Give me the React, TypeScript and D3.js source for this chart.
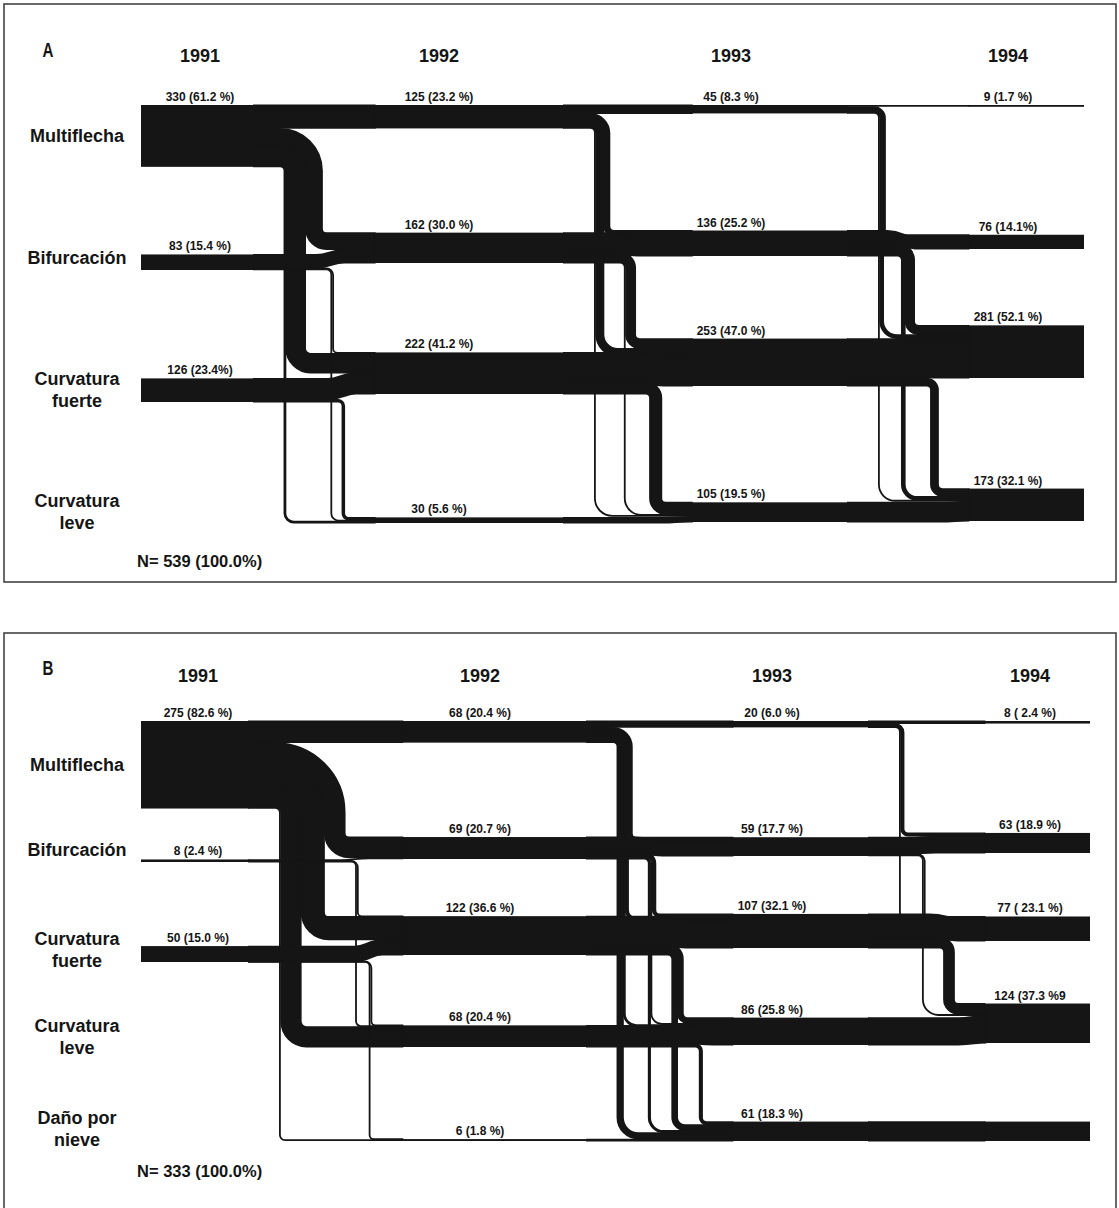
import * as d3 from 'd3'
import React from 'react'

// ---------- panel A ----------
const yearsA = ['1991', '1992', '1993', '1994']
const rowsA = [['Multiflecha'], ['Bifurcación'], ['Curvatura', 'fuerte'], ['Curvatura', 'leve']]
const totalA = 539
const countsA = [
  [330, 83, 126, 0],
  [125, 162, 222, 30],
  [45, 136, 253, 105],
  [9, 76, 281, 173],
]
const labelsA = [
  ['330 (61.2 %)', '83 (15.4 %)', '126 (23.4%)', ''],
  ['125 (23.2 %)', '162 (30.0 %)', '222 (41.2 %)', '30 (5.6 %)'],
  ['45 (8.3 %)', '136 (25.2 %)', '253 (47.0 %)', '105 (19.5 %)'],
  ['9 (1.7 %)', '76 (14.1%)', '281 (52.1 %)', '173 (32.1 %)'],
]
// [from row, to row, trees] for 91-92, 92-93, 93-94
const flowsA = [
  [[0, 0, 125], [0, 1, 90], [0, 2, 105], [0, 3, 10], [1, 1, 72], [1, 2, 5], [1, 3, 6], [2, 2, 112], [2, 3, 14]],
  [[0, 0, 45], [0, 1, 32], [0, 2, 43], [0, 3, 5], [1, 1, 104], [1, 2, 53], [1, 3, 5], [2, 2, 157], [2, 3, 65], [3, 3, 30]],
  [[0, 0, 9], [0, 1, 10], [0, 2, 20], [0, 3, 6], [1, 1, 66], [1, 2, 50], [1, 3, 20], [2, 2, 211], [2, 3, 42], [3, 3, 105]],
]

// ---------- panel B ----------
const yearsB = ['1991', '1992', '1993', '1994']
const rowsB = [['Multiflecha'], ['Bifurcación'], ['Curvatura', 'fuerte'], ['Curvatura', 'leve'], ['Daño por', 'nieve']]
const totalB = 333
const countsB = [
  [275, 8, 50, 0, 0],
  [68, 69, 122, 68, 6],
  [20, 59, 107, 86, 61],
  [8, 63, 77, 124, 61],
]
const labelsB = [
  ['275 (82.6 %)', '8 (2.4 %)', '50 (15.0 %)', '', ''],
  ['68 (20.4 %)', '69 (20.7 %)', '122 (36.6 %)', '68 (20.4 %)', '6 (1.8 %)'],
  ['20 (6.0 %)', '59 (17.7 %)', '107 (32.1 %)', '86 (25.8 %)', '61 (18.3 %)'],
  ['8 ( 2.4 %)', '63 (18.9 %)', '77 ( 23.1 %)', '124 (37.3 %9', ''],
]
const flowsB = [
  [[0, 0, 68], [0, 1, 65], [0, 2, 73], [0, 3, 64], [0, 4, 5], [1, 1, 4], [1, 2, 1], [1, 3, 3], [2, 2, 48], [2, 3, 1], [2, 4, 1]],
  [[0, 0, 20], [0, 1, 12], [0, 2, 10], [0, 3, 6], [0, 4, 20], [1, 1, 47], [1, 2, 11], [1, 3, 4], [1, 4, 7],
    [2, 2, 86], [2, 3, 18], [2, 4, 18], [3, 3, 58], [3, 4, 10], [4, 4, 6]],
  [[0, 0, 8], [0, 1, 10], [0, 2, 2], [1, 1, 53], [1, 2, 2], [1, 3, 4], [2, 2, 73], [2, 3, 34], [3, 3, 86], [4, 4, 61]],
]

// layout (positions only)
const layoutA = {
  box: [4, 4, 1112, 578], letter: 'A', letterY: 57, yearY: 62,
  yearX: [200, 439, 731, 1008], bandX: [141, 1084],
  turnX: [284, 594, 878], gap: [8, 14, 16],
  firstTop: 105, rowBase: [0, 270, 402, 524], drift: [0, 7, 8, 1],
  thick: 101, nY: 567,
}
const layoutB = {
  box: [4, 633, 1112, 620], letter: 'B', letterY: 675, yearY: 682,
  yearX: [198, 480, 772, 1030], bandX: [141, 1090],
  turnX: [279, 617, 899], gap: [10, 16, 18],
  firstTop: 721, rowBase: [0, 862, 962, 1049, 1141], drift: [0, 3, 7, 2, 0],
  thick: 106, nY: 1177,
}

const ink = '#151515'
const minW = 1.8
const rin = 4
const font = '"Liberation Sans", Arial, Helvetica, sans-serif'

const Panel = ({ years, rows, counts, labels, flows, total, layout }) => {
  const nRows = rows.length
  const k = d3.scaleLinear().domain([0, total]).range([0, layout.thick])
  const xYear = d3.scaleOrdinal().domain(years).range(layout.yearX)

  const band = counts.map((yr, t) => yr.map((v, r) => {
    const h = k(v)
    if (r === 0) return { top: layout.firstTop, h }
    const bottom = layout.rowBase[r] - layout.drift[r] * t
    return { top: bottom - h, h }
  }))

  const paths = []
  const xsArr = []
  const xeArr = []
  flows.forEach((list, t) => {
    const fl = list.map(([from, to, v]) => {
      const w = k(v)
      return { from, to, v, w, dw: Math.max(w, minW), sw: w < minW ? minW : w + 0.9 }
    })
    // stack inside the source band
    d3.range(nRows).forEach(i => {
      let c = band[t][i].top
      fl.filter(f => f.from === i).sort((a, b) => a.to - b.to).forEach(f => { f.sy = c + f.w / 2; c += f.w })
    })
    // stack inside the target band
    d3.range(nRows).forEach(j => {
      let c = band[t + 1][j].top
      fl.filter(f => f.to === j)
        .sort((a, b) => ((a.from === j ? 1 : 0) - (b.from === j ? 1 : 0)) || (b.from - a.from))
        .forEach(f => { f.ty = c + f.w / 2; c += f.w })
    })
    // vertical drops
    let x = layout.turnX[t]
    let lastEnd = x
    d3.range(nRows).forEach(i => {
      const left = x
      fl.filter(f => f.from === i && f.to === i).forEach(f => { f.xj = left })
      const downs = fl.filter(f => f.from === i && f.to !== i).sort((a, b) => b.to - a.to)
      if (!downs.length) return
      downs.forEach(f => { f.xv = x + f.dw / 2; f.d = f.xv - left; x += f.dw })
      lastEnd = x
      x += layout.gap[t]
    })
    const xs = layout.turnX[t] - 30
    let xe = lastEnd + 30
    fl.forEach(f => {
      if (f.from === f.to) return
      let rt = f.d + rin
      let rb = (f.ty - band[t + 1][f.to].top) + rin
      const dy = f.ty - f.sy
      if (rt + rb > dy) { const s = dy / (rt + rb); rt *= s; rb *= s }
      f.rt = rt; f.rb = rb
      xe = Math.max(xe, f.xv + rb + 2)
    })
    fl.forEach(f => {
      let d
      if (f.from === f.to) {
        if (Math.abs(f.ty - f.sy) < 0.5) d = `M${xs - 1},${f.sy}H${xe + 1}`
        else d = `M${xs - 1},${f.sy}H${f.xj - 14}C${f.xj},${f.sy} ${f.xj},${f.ty} ${f.xj + 14},${f.ty}H${xe + 1}`
      } else {
        d = `M${xs - 1},${f.sy}H${f.xv - f.rt}A${f.rt},${f.rt} 0 0 1 ${f.xv},${f.sy + f.rt}` +
          `V${f.ty - f.rb}A${f.rb},${f.rb} 0 0 0 ${f.xv + f.rb},${f.ty}H${xe + 1}`
      }
      paths.push({ d, w: f.sw, key: `${t}-${f.from}-${f.to}` })
    })
    xsArr.push(xs)
    xeArr.push(xe)
  })

  const last = years.length - 1
  const [bx, by, bw, bh] = layout.box

  return (
    <g>
      <rect x={bx} y={by} width={bw} height={bh} fill="none" stroke="#444" strokeWidth={1.6} />
      <text x={48} y={layout.letterY} fontFamily={font} fontWeight="bold" fontSize={21} fill={ink}
        textAnchor="middle" transform={`translate(48,0) scale(0.72,1) translate(-48,0)`}>{layout.letter}</text>
      {years.map(y => (
        <text key={y} x={xYear(y)} y={layout.yearY} fontFamily={font} fontWeight="bold" fontSize={18}
          fill={ink} textAnchor="middle">{y}</text>
      ))}
      {rows.map((lines, r) => {
        const c = r === 0 ? layout.firstTop + band[0][0].h / 2 : layout.rowBase[r] - 12
        const b0 = c + 6 - (lines.length - 1) * 11
        return (
          <text key={r} fontFamily={font} fontWeight="bold" fontSize={18} fill={ink} textAnchor="middle">
            {lines.map((ln, i) => <tspan key={i} x={77} y={b0 + i * 22}>{ln}</tspan>)}
          </text>
        )
      })}
      {paths.map(p => (
        <path key={p.key} d={p.d} fill="none" stroke={ink} strokeWidth={p.w} strokeLinecap="butt" />
      ))}
      {counts.map((yr, t) => yr.map((v, r) => {
        if (!v) return null
        const x0 = t === 0 ? layout.bandX[0] : xeArr[t - 1]
        const x1 = t === last ? layout.bandX[1] : xsArr[t]
        return <rect key={`n${t}-${r}`} x={x0} y={band[t][r].top} width={x1 - x0}
          height={Math.max(band[t][r].h, minW)} fill={ink} />
      }))}
      {labels.map((yr, t) => yr.map((lb, r) => lb ? (
        <text key={`l${t}-${r}`} x={xYear(years[t])} y={band[t][r].top - 4} fontFamily={font}
          fontSize={12} fontWeight="bold" fill={ink} textAnchor="middle">{lb}</text>
      ) : null))}
      <text x={137} y={layout.nY} fontFamily={font} fontWeight="bold" fontSize={16.5} fill={ink}>
        {`N= ${total} (100.0%)`}
      </text>
    </g>
  )
}

const App = () => (
  <svg width={1119} height={1208} style={{ position: 'absolute', left: 0, top: 0, background: '#fff' }}>
    <rect width={1119} height={1208} fill="#fff" />
    <Panel years={yearsA} rows={rowsA} counts={countsA} labels={labelsA} flows={flowsA} total={totalA} layout={layoutA} />
    <Panel years={yearsB} rows={rowsB} counts={countsB} labels={labelsB} flows={flowsB} total={totalB} layout={layoutB} />
  </svg>
)

export default App
